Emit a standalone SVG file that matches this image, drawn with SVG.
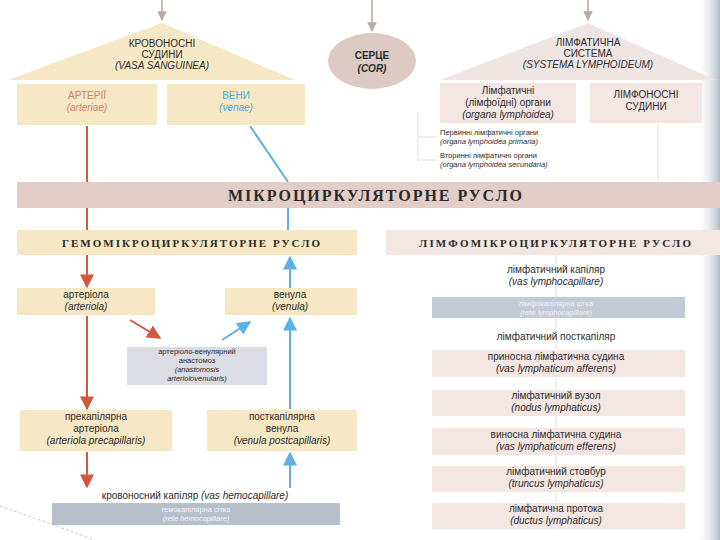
<svg xmlns="http://www.w3.org/2000/svg" width="720" height="540" viewBox="0 0 720 540">
<defs>
<marker id="ar" viewBox="0 0 10 10" refX="9" refY="5" markerWidth="7" markerHeight="7" orient="auto"><path d="M0,0 L10,5 L0,10 z" fill="#d2583e"/></marker>
<marker id="ab" viewBox="0 0 10 10" refX="9" refY="5" markerWidth="7" markerHeight="7" orient="auto"><path d="M0,0 L10,5 L0,10 z" fill="#5cb0e2"/></marker>
<marker id="ag" viewBox="0 0 10 10" refX="9" refY="5" markerWidth="6" markerHeight="6" orient="auto"><path d="M0,0 L10,5 L0,10 z" fill="#b8aaa4"/></marker>
<linearGradient id="edge" x1="0" y1="0" x2="1" y2="0"><stop offset="0" stop-color="#ffffff" stop-opacity="0"/><stop offset="1" stop-color="#b4bac6"/></linearGradient>
<style>
text{font-family:"Liberation Sans",Arial,sans-serif;fill:#2a2a2a;text-anchor:middle}
.t{font-size:10px}
.s{font-size:7.5px}
.i{font-style:italic}
.b{font-weight:bold}
.w{fill:#f4f4f8}
.h{font-family:"Liberation Serif","Times New Roman",serif;font-weight:bold}
.yel{fill:#f6e8c4}
.pnk{fill:#f4e6e2}
.gry{fill:#dcdce4}
.blu{fill:#b8bfcc}
.red{stroke:#d2583e;stroke-width:2;fill:none}
.bl{stroke:#5cb0e2;stroke-width:2;fill:none}
.gl{stroke:#b8aaa4;stroke-width:1.6;fill:none}
.fl{stroke:#e2dede;stroke-width:1;fill:none}
</style>
</defs>
<rect width="720" height="540" fill="#ffffff"/>
<rect x="696" y="0" width="24" height="540" fill="url(#edge)"/>
<path d="M0,506 Q40,520 95,540" fill="none" stroke="#c8c8cc" stroke-width="1" stroke-dasharray="3,2"/>

<g id="connectors">
<line class="gl" x1="162" y1="0" x2="162" y2="20" marker-end="url(#ag)"/>
<line class="gl" x1="372" y1="0" x2="372" y2="31" marker-end="url(#ag)"/>
<line class="gl" x1="588" y1="0" x2="588" y2="20" marker-end="url(#ag)"/>
<path class="fl" d="M418,112 V162 M418,137 H436 M418,160 H436 M658,124 V182"/>
<line class="fl" x1="556" y1="255" x2="556" y2="530"/>
<line class="red" x1="87" y1="126" x2="87" y2="287" marker-end="url(#ar)"/>
<line class="bl" x1="250" y1="126" x2="288" y2="182"/>
<line class="bl" x1="288" y1="182" x2="288" y2="230"/>
<line class="bl" x1="290" y1="288" x2="290" y2="257" marker-end="url(#ab)"/>
<line class="red" x1="87" y1="316" x2="87" y2="409" marker-end="url(#ar)"/>
<line class="red" x1="130" y1="320" x2="160" y2="338" marker-end="url(#ar)"/>
<line class="bl" x1="222" y1="340" x2="250" y2="322" marker-end="url(#ab)"/>
<line class="bl" x1="290" y1="409" x2="290" y2="318" marker-end="url(#ab)"/>
<line class="red" x1="87" y1="452" x2="87" y2="487" marker-end="url(#ar)"/>
<line class="bl" x1="290" y1="488" x2="290" y2="453" marker-end="url(#ab)"/>
</g>

<g id="vasa-sanguinea">
<polygon points="162,23 295,80 8,80" class="yel"/>
<text class="t" x="162" y="47">КРОВОНОСНІ</text>
<text class="t" x="162" y="58">СУДИНИ</text>
<text class="t i" x="162" y="69">(VASA SANGUINEA)</text>
</g>
<g id="arteriae">
<rect class="yel" x="17" y="84" width="140" height="41"/>
<text class="t" x="87" y="99" style="fill:#d08060">АРТЕРІЇ</text>
<text class="t i" x="87" y="111" style="fill:#d08060">(arteriae)</text>
</g>
<g id="venae">
<rect class="yel" x="167" y="84" width="138" height="41"/>
<text class="t" x="236" y="99" style="fill:#4aaad6">ВЕНИ</text>
<text class="t i" x="236" y="111" style="fill:#4aaad6">(venae)</text>
</g>
<g id="cor">
<ellipse cx="372" cy="61" rx="44" ry="28" fill="#ddcac3"/>
<text class="t b" x="372" y="59">СЕРЦЕ</text>
<text class="t b i" x="372" y="72">(COR)</text>
</g>
<g id="systema-lymphoideum">
<polygon points="588,23 716,80 440,80" fill="#efe6e4"/>
<text class="t" x="588" y="46">ЛІМФАТИЧНА</text>
<text class="t" x="588" y="57">СИСТЕМА</text>
<text class="t i" x="588" y="68">(SYSTEMA LYMPHOIDEUM)</text>
</g>
<g id="organa-lymphoidea">
<rect class="pnk" x="440" y="83" width="136" height="40"/>
<text class="t" x="508" y="94">Лімфатичні</text>
<text class="t" x="508" y="106">(лімфоїдні) органи</text>
<text class="t i" x="508" y="118">(organa lymphoidea)</text>
</g>
<g id="lymphonosni-sudyny">
<rect class="pnk" x="590" y="83" width="112" height="40"/>
<text class="t" x="646" y="98">ЛІМФОНОСНІ</text>
<text class="t" x="646" y="110">СУДИНИ</text>
</g>
<g id="primary-secondary">
<text class="s" x="440" y="135" style="text-anchor:start">Первинні лімфатичні органи</text>
<text class="s i" x="440" y="144" style="text-anchor:start">(organa lymphoidea primaria)</text>
<text class="s" x="440" y="158" style="text-anchor:start">Вторинні лімфатичні органи</text>
<text class="s i" x="440" y="167" style="text-anchor:start">(organa lymphoidea secundaria)</text>
</g>
<g id="microcirculation">
<rect x="17" y="182" width="703" height="26" fill="#e2cdc7"/>
<text class="h" x="375" y="201" font-size="16" textLength="294" lengthAdjust="spacing">МІКРОЦИРКУЛЯТОРНЕ РУСЛО</text>
</g>
<g id="hemomicro">
<rect class="yel" x="17" y="230" width="340" height="25"/>
<text class="h" x="191" y="247" font-size="11" textLength="258" lengthAdjust="spacing">ГЕМОМІКРОЦИРКУЛЯТОРНЕ РУСЛО</text>
</g>
<g id="lymphomicro">
<rect class="pnk" x="386" y="230" width="334" height="25"/>
<text class="h" x="555" y="247" font-size="11" textLength="272" lengthAdjust="spacing">ЛІМФОМІКРОЦИРКУЛЯТОРНЕ РУСЛО</text>
</g>
<g id="arteriola">
<rect class="yel" x="17" y="288" width="138" height="27"/>
<text class="t" x="86" y="298">артеріола</text>
<text class="t i" x="86" y="310">(arteriola)</text>
</g>
<g id="venula">
<rect class="yel" x="225" y="288" width="132" height="27"/>
<text class="t" x="290" y="298">венула</text>
<text class="t i" x="290" y="310">(venula)</text>
</g>
<g id="anastomosis">
<rect class="gry" x="127" y="347" width="140" height="38"/>
<text class="s" x="197" y="354">артеріоло-венулярний</text>
<text class="s" x="197" y="363">анастомоз</text>
<text class="s i" x="197" y="372">(anastomosis</text>
<text class="s i" x="197" y="381">arteriolovenularis)</text>
</g>
<g id="arteriola-precapillaris">
<rect class="yel" x="20" y="410" width="152" height="41"/>
<text class="t" x="96" y="420">прекапілярна</text>
<text class="t" x="96" y="432">артеріола</text>
<text class="t i" x="96" y="444">(arteriola precapillaris)</text>
</g>
<g id="venula-postcapillaris">
<rect class="yel" x="207" y="410" width="150" height="41"/>
<text class="t" x="282" y="420">посткапілярна</text>
<text class="t" x="282" y="432">венула</text>
<text class="t i" x="282" y="444">(venula postcapillaris)</text>
</g>
<g id="vas-hemocapillare">
<text class="t" x="195" y="499">кровоносний капіляр <tspan class="i">(vas hemocapillare)</tspan></text>
</g>
<g id="rete-hemocapillare">
<rect class="blu" x="52" y="503" width="288" height="22"/>
<text class="s w" x="196" y="512">гемокапілярна сітка</text>
<text class="s i w" x="196" y="521">(rete hemocapillare)</text>
</g>
<g id="vas-lymphocapillare">
<text class="t" x="556" y="273">лімфатичний капіляр</text>
<text class="t i" x="556" y="285">(vas lymphocapillare)</text>
</g>
<g id="rete-lymphocapillare">
<rect x="432" y="297" width="253" height="21" fill="#c3cad6"/>
<text class="s w" x="556" y="306">лімфокапілярна сітка</text>
<text class="s i w" x="556" y="315">(rete lymphocapillare)</text>
</g>
<g id="postcapillary">
<text class="t" x="556" y="340">лімфатичний посткапіляр</text>
</g>
<g id="afferens">
<rect class="pnk" x="432" y="350" width="253" height="27"/>
<text class="t" x="556" y="360">приносна лімфатична судина</text>
<text class="t i" x="556" y="372">(vas lymphaticum afferens)</text>
</g>
<g id="nodus">
<rect class="pnk" x="432" y="390" width="253" height="26"/>
<text class="t" x="556" y="399">лімфатичний вузол</text>
<text class="t i" x="556" y="411">(nodus lymphaticus)</text>
</g>
<g id="efferens">
<rect class="pnk" x="432" y="428" width="253" height="27"/>
<text class="t" x="556" y="438">виносна лімфатична судина</text>
<text class="t i" x="556" y="450">(vas lymphaticum efferens)</text>
</g>
<g id="truncus">
<rect class="pnk" x="432" y="466" width="253" height="26"/>
<text class="t" x="556" y="475">лімфатичний стовбур</text>
<text class="t i" x="556" y="487">(truncus lymphaticus)</text>
</g>
<g id="ductus">
<rect class="pnk" x="432" y="503" width="253" height="26"/>
<text class="t" x="556" y="512">лімфатична протока</text>
<text class="t i" x="556" y="524">(ductus lymphaticus)</text>
</g>
</svg>
